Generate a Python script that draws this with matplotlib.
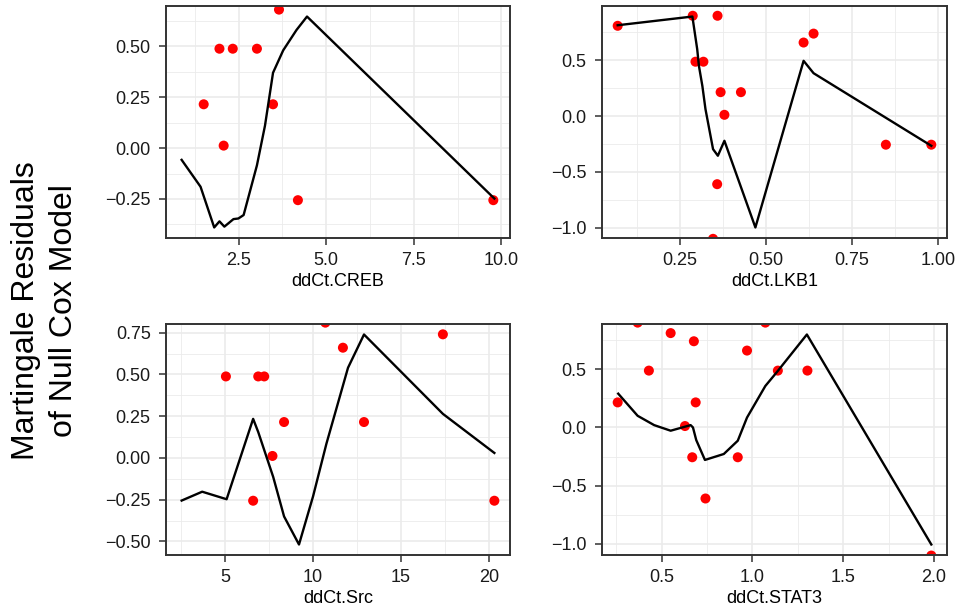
import numpy as np
import matplotlib.pyplot as plt
from matplotlib.ticker import FixedLocator, FuncFormatter

plt.rcParams["font.family"] = ["Liberation Sans", "DejaVu Sans"]

# martingale residuals (points) and smoothed fit (line) per marker
creb_x = [1.50, 1.95, 2.33, 3.02, 3.65, 3.48, 2.07, 4.19, 9.77]
creb_y = [0.215, 0.488, 0.488, 0.488, 0.68, 0.215, 0.012, -0.256, -0.256]
creb_fx = [0.87, 1.41, 1.80, 1.95, 2.09, 2.35, 2.49, 2.64, 3.02, 3.25, 3.48,
           3.77, 4.15, 4.45, 9.80]
creb_fy = [-0.058, -0.19, -0.39, -0.36, -0.386, -0.349, -0.346, -0.329,
           -0.085, 0.11, 0.37, 0.48, 0.58, 0.646, -0.248]

lkb1_x = [0.07, 0.288, 0.36, 0.296, 0.319, 0.61, 0.639, 0.369, 0.428, 0.380,
          0.849, 0.981, 0.359, 0.347]
lkb1_y = [0.81, 0.90, 0.90, 0.488, 0.488, 0.66, 0.74, 0.215, 0.215, 0.012,
          -0.256, -0.256, -0.61, -1.10]
lkb1_fx = [0.07, 0.287, 0.301, 0.306, 0.316, 0.325, 0.347, 0.361, 0.380,
           0.470, 0.610, 0.639, 0.981]
lkb1_fy = [0.815, 0.893, 0.60, 0.45, 0.27, 0.063, -0.296, -0.355, -0.221,
           -0.998, 0.496, 0.385, -0.266]

src_x = [5.04, 6.88, 7.22, 6.59, 8.35, 7.69, 10.70, 11.70, 12.90, 17.39, 20.32]
src_y = [0.488, 0.488, 0.488, -0.256, 0.215, 0.012, 0.81, 0.66, 0.215, 0.74,
         -0.256]
src_fx = [2.52, 3.69, 5.08, 6.59, 6.88, 7.73, 8.35, 9.20, 10.0, 10.76, 11.99,
          12.90, 17.39, 20.32]
src_fy = [-0.255, -0.202, -0.247, 0.234, 0.155, -0.113, -0.35, -0.518, -0.23,
          0.085, 0.54, 0.739, 0.264, 0.03]

stat3_x = [0.257, 0.367, 0.429, 0.549, 0.677, 0.687, 0.628, 0.668, 0.741,
           0.919, 0.970, 1.071, 1.140, 1.303, 1.986]
stat3_y = [0.215, 0.90, 0.488, 0.81, 0.74, 0.215, 0.012, -0.256, -0.61,
           -0.256, 0.66, 0.90, 0.488, 0.488, -1.10]
stat3_fx = [0.26, 0.367, 0.458, 0.549, 0.659, 0.672, 0.690, 0.738, 0.842,
            0.919, 0.970, 1.071, 1.135, 1.30, 1.986]
stat3_fy = [0.29, 0.10, 0.02, -0.028, 0.02, 0.0, -0.108, -0.279, -0.228,
            -0.114, 0.085, 0.356, 0.476, 0.798, -1.005]

panels = [
    ("ddCt.CREB", creb_x, creb_y, creb_fx, creb_fy,
     [2.5, 5.0, 7.5, 10.0], 1, [-0.25, 0.0, 0.25, 0.5], 2),
    ("ddCt.LKB1", lkb1_x, lkb1_y, lkb1_fx, lkb1_fy,
     [0.25, 0.5, 0.75, 1.0], 2, [-1.0, -0.5, 0.0, 0.5], 1),
    ("ddCt.Src", src_x, src_y, src_fx, src_fy,
     [5, 10, 15, 20], 0, [-0.5, -0.25, 0.0, 0.25, 0.5, 0.75], 2),
    ("ddCt.STAT3", stat3_x, stat3_y, stat3_fx, stat3_fy,
     [0.5, 1.0, 1.5, 2.0], 1, [-1.0, -0.5, 0.0, 0.5], 1),
]

W, H = 959, 615
# panel boxes in pixels: left, top, right, bottom
boxes = [(166, 6, 510, 238), (602, 6, 947, 238),
         (166, 324, 510, 555), (602, 324, 947, 555)]


def expand(lo, hi, frac=0.05):
    r = hi - lo
    return lo - frac * r, hi + frac * r


def minor_breaks(major, lims):
    step = major[1] - major[0]
    m = np.arange(major[0] - step / 2, lims[1] + step, step)
    return [v for v in m if lims[0] <= v <= lims[1]]


def fmt(decimals):
    def f(v, pos):
        s = f"{v:.{decimals}f}"
        return s.replace("-", "\u2212")
    return FuncFormatter(f)


fig = plt.figure(figsize=(W / 100, H / 100), dpi=100)

for (name, px, py, fx, fy, xt, xd, yt, yd), (l, t, r, b) in zip(panels, boxes):
    ax = fig.add_axes([l / W, 1 - b / H, (r - l) / W, (b - t) / H])
    xlim = expand(min(min(px), min(fx)), max(max(px), max(fx)))
    ylim = expand(min(fy), max(fy))
    ax.set_xlim(xlim)
    ax.set_ylim(ylim)

    for v in minor_breaks(xt, xlim):
        ax.axvline(v, color="#EBEBEB", lw=0.6, zorder=0)
    for v in minor_breaks(yt, ylim):
        ax.axhline(v, color="#EBEBEB", lw=0.6, zorder=0)
    for v in xt:
        ax.axvline(v, color="#EBEBEB", lw=1.2, zorder=0)
    for v in yt:
        ax.axhline(v, color="#EBEBEB", lw=1.2, zorder=0)

    ax.scatter(px, py, s=52, color="#FF0000", edgecolors="none", zorder=2)
    ax.plot(fx, fy, color="black", lw=1.7, zorder=3)

    ax.xaxis.set_major_locator(FixedLocator(xt))
    ax.yaxis.set_major_locator(FixedLocator(yt))
    ax.xaxis.set_major_formatter(fmt(xd))
    ax.yaxis.set_major_formatter(fmt(yd))
    ax.tick_params(length=5, width=1.1, color="#333333", labelsize=13,
                   labelcolor="#1A1A1A")
    ax.tick_params(axis="y", pad=6)
    ax.tick_params(axis="x", pad=5)
    for s in ax.spines.values():
        s.set_color("#333333")
        s.set_linewidth(1.4)
    ax.set_xlabel(name, fontsize=13, color="black", labelpad=3)

fig.text(0.047, 0.495, "Martingale Residuals\nof Null Cox Model",
         rotation=90, ha="center", va="center", fontsize=23,
         linespacing=1.38)

fig.savefig("out.png", dpi=100)
